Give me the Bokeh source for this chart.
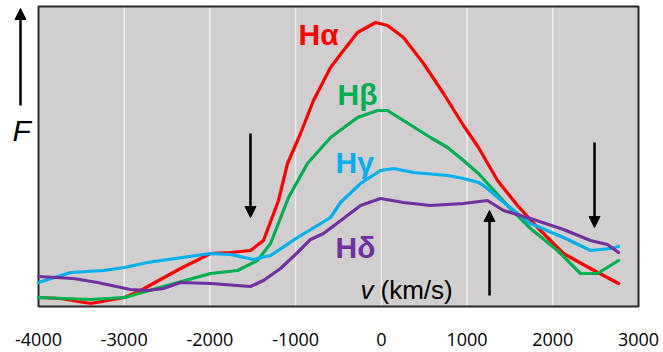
from bokeh.plotting import figure
from bokeh.models import Range1d, FixedTicker, Label, Arrow, NormalHead
from bokeh.embed import file_html
from bokeh.resources import INLINE

# ---- data (velocity km/s, relative flux) ----
ha_v = [-4000, -3743, -3393, -2997, -2810, -2343, -1993, -1760, -1527, -1375, -1200, -1095, -943, -792,
        -593, -442, -278, -68, 72, 258, 492, 725, 958, 1133, 1355, 1588, 1822, 2125, 2440, 2767]
ha_f = [9, 8, 3, 9, 16, 38, 53, 54, 56, 66, 106, 143, 173, 206,
        239, 256, 274, 284, 281, 269, 243, 213, 181, 159, 126, 101, 79, 53, 38, 23]

hb_v = [-4000, -3393, -2997, -2542, -1993, -1678, -1445, -1293, -1083, -862, -593, -278, -45, 72,
        258, 573, 772, 958, 1133, 1472, 1740, 2055, 2323, 2522, 2767]
hb_f = [9, 7, 9, 20, 33, 36, 46, 63, 109, 143, 169, 189, 196, 196,
        186, 169, 159, 146, 133, 101, 78, 56, 33, 33, 46]

hg_v = [-4000, -3627, -3242, -2997, -2728, -1993, -1760, -1492, -1293, -978, -593, -477, -243, -10,
        142, 375, 772, 958, 1133, 1192, 1472, 1740, 2125, 2440, 2673, 2767]
hg_f = [24, 34, 36, 39, 44, 53, 52, 47, 51, 69, 89, 104, 123, 136,
        138, 134, 131, 128, 124, 121, 101, 83, 69, 56, 58, 60]

hd_v = [-4000, -3592, -3312, -2927, -2728, -2542, -2343, -1993, -1527, -1375, -1177, -978, -827, -675,
        -442, -243, -10, 258, 573, 958, 1238, 1425, 1740, 2125, 2440, 2638, 2767]
hd_f = [30, 28, 24, 17, 16, 18, 24, 23, 20, 26, 38, 54, 67, 73,
        88, 101, 108, 104, 101, 103, 106, 96, 88, 77, 66, 62, 54]

x_ticks = [-4000, -3000, -2000, -1000, 0, 1000, 2000, 3000]
x_tick_labels = ["-4000", "-3000", "-2000", "-1000", "0", "1000", "2000", "3000"]
flux_top = 300

series_names = ["H\u03b1", "H\u03b2", "H\u03b3", "H\u03b4"]
series_colors = ["#FF0000", "#00B050", "#00B0F0", "#7030A0"]
label_pos = [(-967, 272), (-512, 212), (-535, 144), (-535, 59)]

# arrows: (v, flux_start, flux_end)
arrows = [(-1527, 173, 89), (1262, 11, 96), (2487, 164, 79), (-4210, 201, 298)]

k = 7000 / 600.0
p = figure(width=663, height=352, output_backend="svg", toolbar_location=None,
           x_range=Range1d(-4000 - 38 * k, 3000 + 25 * k), y_range=Range1d(-6, 306),
           min_border_left=0, min_border_right=0, min_border_top=0, min_border_bottom=40)

p.background_fill_color = "white"
p.border_fill_color = "white"
p.outline_line_color = None
p.yaxis.visible = False
p.grid.visible = False

ax = p.xaxis[0]
ax.ticker = FixedTicker(ticks=x_ticks)
ax.major_label_overrides = {t: s for t, s in zip(x_ticks, x_tick_labels)}
ax.axis_line_color = None
ax.major_tick_line_color = None
ax.minor_tick_line_color = None
ax.major_label_text_font = "Open Sans"
ax.major_label_text_font_size = "18px"
ax.major_label_text_color = "#000000"
ax.major_label_standoff = 14

# plot area
p.quad(left=[x_ticks[0]], right=[x_ticks[-1]], bottom=[0], top=[flux_top],
       fill_color="#D0CECE", line_color=None)
inner = x_ticks[1:-1]
p.segment(x0=inner, y0=[0] * len(inner), x1=inner, y1=[flux_top] * len(inner),
          line_color="#EEEEEE", line_width=1.5)
p.quad(left=[x_ticks[0]], right=[x_ticks[-1]], bottom=[0], top=[flux_top],
       fill_color=None, line_color="#262626", line_width=2)

for v, f, c in [(ha_v, ha_f, series_colors[0]), (hb_v, hb_f, series_colors[1]),
                (hg_v, hg_f, series_colors[2]), (hd_v, hd_f, series_colors[3])]:
    p.line(v, f, line_color=c, line_width=3.2, line_join="round", line_cap="round")

for name, c, (lx, ly) in zip(series_names, series_colors, label_pos):
    p.add_layout(Label(x=lx, y=ly, text=name, text_color=c, text_font="Liberation Sans",
                       text_font_style="bold", text_font_size="30px", text_baseline="alphabetic"))

for (av, a0, a1) in arrows:
    p.add_layout(Arrow(x_start=av, y_start=a0, x_end=av, y_end=a1, line_width=2.5, line_color="black",
                       end=NormalHead(size=11, fill_color="black", line_color="black", line_width=1)))

p.add_layout(Label(x=-4303, y=176, text="F", text_font="Liberation Sans", text_font_style="italic",
                   text_font_size="30px", text_color="black", text_baseline="alphabetic"))
p.add_layout(Label(x=-243, y=17, text="v", text_font="Liberation Sans", text_font_style="italic",
                   text_font_size="26px", text_color="black", text_baseline="alphabetic"))
p.add_layout(Label(x=-10, y=17, text="(km/s)", text_font="Liberation Sans",
                   text_font_size="26px", text_color="black", text_baseline="alphabetic"))

open("out.html", "w").write(file_html(p, INLINE))
